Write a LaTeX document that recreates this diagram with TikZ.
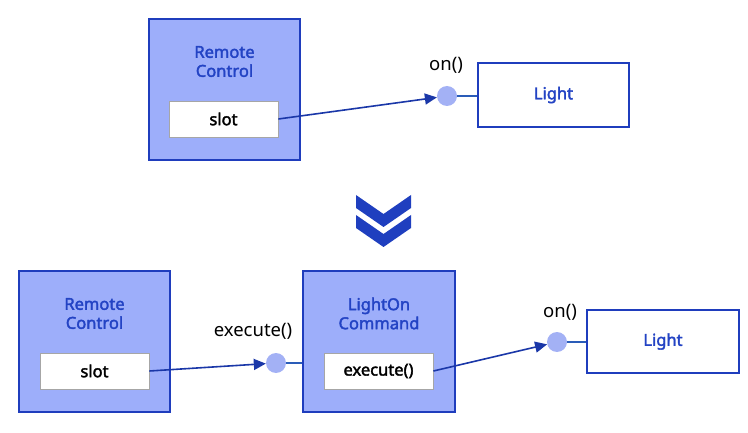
\documentclass[tikz,border=0pt]{standalone}
\usepackage{fontspec}
\setmainfont{Noto Sans}[AutoFakeBold=2.2]
\usetikzlibrary{arrows.meta}
\definecolor{boxfill}{HTML}{9DAEFA}
\definecolor{boxborder}{HTML}{1F3DBD}
\definecolor{titleblue}{HTML}{2343C4}
\definecolor{arrowblue}{HTML}{1A37A8}
\definecolor{portfill}{HTML}{A3B1F5}
\definecolor{portline}{HTML}{2A5CB8}
\definecolor{chev}{HTML}{1F3FBF}
\tikzset{
  compbox/.style={draw=boxborder, fill=boxfill, line width=2pt, inner sep=0pt},
  litebox/.style={draw=boxborder, fill=white, line width=2pt, inner sep=0pt, font=\fontsize{16.5}{18}\selectfont\bfseries, text=titleblue},
  slotbox/.style={draw=gray!70, fill=white, line width=0.8pt, inner sep=0pt, font=\fontsize{16.5}{18}\selectfont\bfseries},
  title/.style={font=\fontsize{16.5}{19}\selectfont\bfseries, text=titleblue, align=center, inner sep=0pt},
  port/.style={circle, fill=portfill, minimum size=20pt, inner sep=0pt},
  lbl/.style={font=\fontsize{18.5}{20}\selectfont, inner sep=0pt},
  call/.style={draw=arrowblue, line width=1.6pt, -{Triangle[length=12pt,width=11pt]}},
  plug/.style={draw=portline, line width=1.2pt}
}
\begin{document}
\begin{tikzpicture}[x=1pt,y=-1pt]
\useasboundingbox (0,0) rectangle (748,433);
% ---------- top ----------
\node[compbox, minimum width=151pt, minimum height=141pt] (rc1) at (224.5,89.5) {};
\node[title] (rc1t) at (224.5,61.5) {Remote\\Control};
\node[slotbox, minimum width=109pt, minimum height=36pt] (slot1) at (223.5,119) {slot};
\node[litebox, minimum width=151pt, minimum height=64pt] (light1) at (553.5,95) {Light};
\node[port] (p1) at (447,96) {};
\node[lbl] (on1) at (446,65) {on()};
\draw[plug] (p1.east) -- (p1.east -| light1.west);
\draw[call] (slot1.east) -- (p1);
% ---------- chevrons ----------
\fill[chev] (356,195) -- (383.5,214) -- (411,195) -- (411,208) -- (383.5,227) -- (356,208) -- cycle;
\fill[chev] (356,215) -- (383.5,234) -- (411,215) -- (411,228) -- (383.5,247) -- (356,228) -- cycle;
% ---------- bottom ----------
\node[compbox, minimum width=151pt, minimum height=141pt] (rc2) at (94.5,341.5) {};
\node[title] (rc2t) at (94.5,313.5) {Remote\\Control};
\node[slotbox, minimum width=109pt, minimum height=36pt] (slot2) at (94.5,371) {slot};
\node[compbox, minimum width=152pt, minimum height=141pt] (cmd) at (379,341.5) {};
\node[title] (cmdt) at (379,313.5) {LightOn\\Command};
\node[slotbox, minimum width=109pt, minimum height=36pt] (exec) at (378.5,371) {execute()};
\node[port] (p2) at (276,363) {};
\node[lbl] (ex2) at (253,331) {execute()};
\draw[plug] (p2.east) -- (p2.east -| cmd.west);
\draw[call] (slot2.east) -- (p2);
\node[litebox, minimum width=152pt, minimum height=63pt] (light2) at (663,341.5) {Light};
\node[port] (p3) at (557,342) {};
\node[lbl] (on3) at (560,312) {on()};
\draw[plug] (p3.east) -- (p3.east -| light2.west);
\draw[call] (exec.east) -- (p3);
\end{tikzpicture}
\end{document}
